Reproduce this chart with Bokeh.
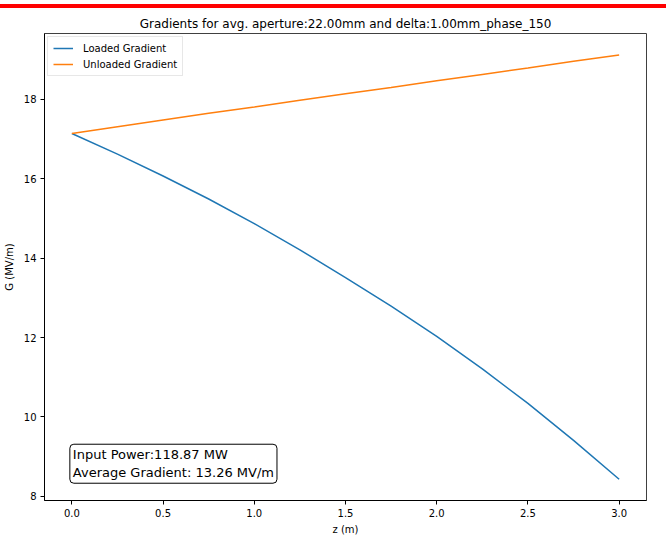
from bokeh.plotting import figure
from bokeh.models import (Range1d, FixedTicker, NumeralTickFormatter, Legend, LegendItem,
                          Label, Div)
from bokeh.layouts import column
from bokeh.embed import file_html
from bokeh.resources import INLINE

# ---- data ----
z_m = [0.0, 0.25, 0.5, 0.75, 1.0, 1.25, 1.5, 1.75, 2.0, 2.25, 2.5, 2.75, 3.0]
loaded_gradient = [17.14, 16.62, 16.07, 15.49, 14.87, 14.21, 13.51, 12.79, 12.03,
                   11.21, 10.34, 9.41, 8.43]
unloaded_gradient = [17.14, 17.31, 17.48, 17.65, 17.81, 17.98, 18.14, 18.30, 18.47,
                     18.63, 18.79, 18.96, 19.12]
x_ticks = [0.0, 0.5, 1.0, 1.5, 2.0, 2.5, 3.0]
y_ticks = [8, 10, 12, 14, 16, 18]
title_text = "Gradients for avg. aperture:22.00mm and delta:1.00mm_phase_150"
info_text = "Input Power:118.87 MW\nAverage Gradient: 13.26 MV/m"

FONT = "DejaVu Sans"
BLUE = "#1f77b4"
ORANGE = "#ff7f0e"

p = figure(width=666, height=528, output_backend="svg", toolbar_location=None,
           x_range=Range1d(-0.15, 3.15), y_range=Range1d(7.895, 19.66),
           min_border_left=43, min_border_right=20, min_border_top=24,
           min_border_bottom=25, title=title_text)

p.title.text_font = FONT
p.title.text_font_size = "12px"
p.title.text_font_style = "normal"
p.title.text_color = "#000000"
p.title.align = "center"
p.title.standoff = 6

p.grid.visible = False
p.outline_line_color = "#404040"
p.outline_line_width = 1
p.background_fill_color = "white"
p.border_fill_color = "white"

for ax in (p.xaxis[0], p.yaxis[0]):
    ax.axis_line_color = "#000000"
    ax.major_tick_line_color = "#000000"
    ax.major_tick_out = 4
    ax.major_tick_in = 0
    ax.minor_tick_out = 0
    ax.minor_tick_in = 0
    ax.major_label_text_font = FONT
    ax.major_label_text_font_size = "10px"
    ax.major_label_text_color = "#000000"
    ax.axis_label_text_font = FONT
    ax.axis_label_text_font_size = "10px"
    ax.axis_label_text_font_style = "normal"
    ax.axis_label_text_color = "#000000"
    ax.major_label_standoff = 4

p.xaxis.ticker = FixedTicker(ticks=x_ticks)
p.xaxis.formatter = NumeralTickFormatter(format="0.0")
p.yaxis.ticker = FixedTicker(ticks=y_ticks)
p.xaxis.axis_label = "z (m)"
p.yaxis.axis_label = "G (MV/m)"
p.xaxis.axis_label_standoff = 4
p.yaxis.axis_label_standoff = 6

r1 = p.line(z_m, loaded_gradient, line_color=BLUE, line_width=1.5)
r2 = p.line(z_m, unloaded_gradient, line_color=ORANGE, line_width=1.5)

legend = Legend(items=[LegendItem(label="Loaded Gradient", renderers=[r1]),
                       LegendItem(label="Unloaded Gradient", renderers=[r2])],
                location="top_left", margin=3, padding=5, spacing=4,
                label_height=12, glyph_height=12, glyph_width=20, label_standoff=10,
                label_text_font=FONT, label_text_font_size="10px",
                label_text_color="#000000", border_line_color="#d0d0d0",
                border_line_width=1, background_fill_color="white",
                background_fill_alpha=0.8)
p.add_layout(legend)

info = Label(x=-0.011, y=8.33, text=info_text, text_font=FONT, text_font_size="13px",
             text_color="#000000", text_align="left", text_baseline="bottom",
             background_fill_color="white", border_line_color="#000000",
             border_line_width=1, padding=3, border_radius=4)
p.add_layout(info)

bar = Div(text='<div style="position:absolute;top:4px;left:0;width:666px;height:4px;background:#ff0000;"></div>',
          width=666, height=9, margin=(0, 0, 0, 0))
layout = column(bar, p, spacing=0, margin=(0, 0, 0, 0))

open("out.html", "w").write(file_html(layout, INLINE))
